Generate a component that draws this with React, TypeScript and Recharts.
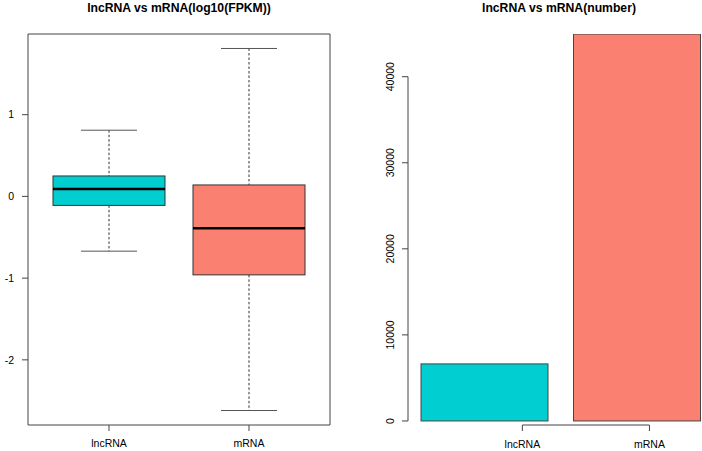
import {
  Bar,
  BarChart,
  CartesianGrid,
  ComposedChart,
  ReferenceLine,
  XAxis,
  YAxis,
} from "recharts";

// left panel: log10(FPKM) distribution, one box per RNA class
const categories = ["lncRNA", "mRNA"];
const whiskerLow = [-0.67, -2.62];
const quart1 = [-0.11, -0.96];
const medians = [0.09, -0.39];
const quart3 = [0.25, 0.14];
const whiskerHigh = [0.81, 1.81];
const fpkmTicks = [-2, -1, 0, 1];

// right panel: transcript counts
const counts = [6630, 44960];
const countTicks = [0, 10000, 20000, 30000, 40000];

const BOX_COLORS = ["#00CED1", "#FA8072"];
const AXIS = "#444";
const FONT = '"Liberation Sans", Arial, Helvetica, sans-serif';

const boxData = categories.map((name, i) => ({
  name,
  min: whiskerLow[i],
  q1: quart1[i],
  median: medians[i],
  q3: quart3[i],
  max: whiskerHigh[i],
}));

// R pads the y range by 4% on each side
const fpkmMin = Math.min(...whiskerLow);
const fpkmMax = Math.max(...whiskerHigh);
const fpkmPad = (fpkmMax - fpkmMin) * 0.04;
const fpkmDomain = [fpkmMin - fpkmPad, fpkmMax + fpkmPad];

const countData = categories.map((name, i) => ({ name, count: counts[i] }));
const countFloor = -470; // axis line sits a few px under the bar base
const countDomain = [countFloor, Math.max(...counts)];

// barplot geometry: bars are 1 unit wide with 0.2 space, labels sit at x = 1, 2
const BAR_W = 127;
const SPACE = 0.2;
const labelShift = (i: number) => (i + 1 - (SPACE + 0.5 + i * (1 + SPACE))) * BAR_W;

function BoxShape(props: any) {
  const { x, y, width, height, payload, index } = props;
  const top = Math.min(y, y + height);
  const ppu = Math.abs(height) / (payload.max - payload.min);
  const py = (v: number) => top + (payload.max - v) * ppu;
  const cx = x + width / 2;
  const cap = width / 4;
  return (
    <g>
      <line x1={cx} x2={cx} y1={py(payload.max)} y2={py(payload.q3)} stroke="#333" strokeDasharray="2.5 2" />
      <line x1={cx} x2={cx} y1={py(payload.q1)} y2={py(payload.min)} stroke="#333" strokeDasharray="2.5 2" />
      <line x1={cx - cap} x2={cx + cap} y1={py(payload.max)} y2={py(payload.max)} stroke="#555" />
      <line x1={cx - cap} x2={cx + cap} y1={py(payload.min)} y2={py(payload.min)} stroke="#555" />
      <rect
        x={x}
        y={py(payload.q3)}
        width={width}
        height={py(payload.q1) - py(payload.q3)}
        fill={BOX_COLORS[index]}
        stroke="#333"
      />
      <line x1={x} x2={x + width} y1={py(payload.median)} y2={py(payload.median)} stroke="#000" strokeWidth={2.5} />
    </g>
  );
}

function RotatedTick(props: any) {
  const { x, y, payload } = props;
  return (
    <text
      x={x}
      y={y}
      transform={`rotate(-90, ${x}, ${y})`}
      textAnchor="middle"
      fontSize={10.5}
      fill="#000"
      fontFamily={FONT}
    >
      {payload.value}
    </text>
  );
}

// x axis of the barplot: ticks at 1 and 2, joined by a line between them
function CountAxisTick(props: any) {
  const { x, y, index, payload } = props;
  const lx = x + labelShift(index);
  return (
    <g>
      {index === 0 && (
        <line x1={lx} x2={lx + (categories.length - 1) * BAR_W} y1={y} y2={y} stroke={AXIS} />
      )}
      <line x1={lx} x2={lx} y1={y} y2={y + 6} stroke={AXIS} />
      <text x={lx} y={y + 23} textAnchor="middle" fontSize={10.5} fill="#000" fontFamily={FONT}>
        {payload.value}
      </text>
    </g>
  );
}

const titleStyle = {
  position: "absolute" as const,
  top: 2,
  fontFamily: FONT,
  fontWeight: "bold",
  fontSize: 12.2,
  lineHeight: "12px",
  textAlign: "center" as const,
  whiteSpace: "nowrap" as const,
};

const tickFont = { fontSize: 10.5, fill: "#000", fontFamily: FONT };

export default function App() {
  return (
    <div
      style={{
        position: "absolute",
        left: 0,
        top: 0,
        width: 702,
        height: 451,
        overflow: "hidden",
        background: "#fff",
      }}
    >
      <div style={{ ...titleStyle, left: 28, width: 302 }}>lncRNA vs mRNA(log10(FPKM))</div>
      <div style={{ ...titleStyle, left: 408, width: 302 }}>lncRNA vs mRNA(number)</div>

      <div style={{ position: "absolute", left: 0, top: 0 }}>
        <ComposedChart width={351} height={451} data={boxData} margin={{ top: 34, right: 21, bottom: 0, left: 0 }}>
          {/* box round the plot region */}
          <CartesianGrid
            stroke={AXIS}
            horizontalCoordinatesGenerator={({ offset }: any) => [offset.top, offset.top + offset.height]}
            verticalCoordinatesGenerator={({ offset }: any) => [offset.left, offset.left + offset.width]}
          />
          <XAxis
            dataKey="name"
            padding={{ left: 11, right: 11 }}
            height={26}
            axisLine={false}
            stroke={AXIS}
            tickSize={6}
            tickMargin={9}
            tick={tickFont}
          />
          <YAxis
            type="number"
            domain={fpkmDomain}
            allowDataOverflow
            ticks={fpkmTicks}
            width={28}
            axisLine={false}
            stroke={AXIS}
            tickSize={6}
            tickMargin={8}
            tick={tickFont}
          />
          <Bar
            dataKey={(d: any) => [d.min, d.max]}
            barSize={112}
            shape={BoxShape}
            isAnimationActive={false}
          />
        </ComposedChart>
      </div>

      <div style={{ position: "absolute", left: 351, top: 0, width: 351, height: 451, overflow: "hidden" }}>
        <BarChart width={362} height={451} data={countData} margin={{ top: 34, right: 0, bottom: 0, left: 0 }}>
          <XAxis
            dataKey="name"
            height={26}
            axisLine={false}
            tickLine={false}
            tickSize={0}
            tickMargin={0}
            interval={0}
            tick={<CountAxisTick />}
          />
          <YAxis
            type="number"
            domain={countDomain}
            allowDataOverflow
            ticks={countTicks}
            width={57}
            axisLine={false}
            stroke={AXIS}
            tickSize={6}
            tickMargin={8}
            tick={<RotatedTick />}
          />
          <ReferenceLine
            segment={[
              { x: categories[0], y: countTicks[0] },
              { x: categories[0], y: countTicks[countTicks.length - 1] },
            ]}
            position="start"
            stroke={AXIS}
            ifOverflow="visible"
          />
          <Bar
            dataKey="count"
            barSize={BAR_W}
            isAnimationActive={false}
            shape={(p: any) => (
              <rect x={p.x} y={p.y} width={p.width} height={p.height} fill={BOX_COLORS[p.index]} stroke="#444" />
            )}
          />
        </BarChart>
      </div>
    </div>
  );
}
